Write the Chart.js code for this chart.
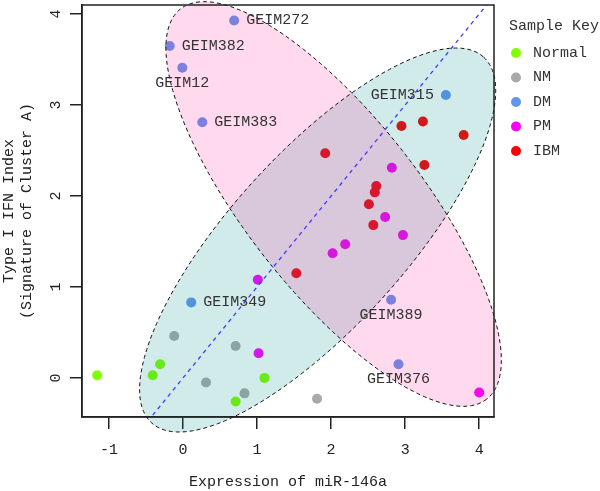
<!DOCTYPE html>
<html>
<head>
<meta charset="utf-8">
<script src="https://cdn.jsdelivr.net/npm/chart.js@4"></script>
<style>
  html, body { margin: 0; padding: 0; background: #fff; }
  canvas { display: block; }
</style>
</head>
<body>
<canvas id="graficaMiR" width="600" height="491"></canvas>
<script>
// Grupos de muestras y sus colores
const categorias = ['Normal', 'NM', 'DM', 'PM', 'IBM'];
const colores = ['#7FFF00', '#A9A9A9', '#6495ED', '#FF00FF', '#FF0000'];

// Valores: x = expresión de miR-146a, y = índice IFN tipo I
const normalX = [-1.16, -0.41, -0.31, 0.71, 1.10];
const normalY = [0.03, 0.03, 0.15, -0.26, 0.00];
const nmX = [-0.12, 0.71, 0.31, 0.83, 1.81];
const nmY = [0.46, 0.35, -0.05, -0.17, -0.23];
const dmX = [0.69, -0.18, -0.01, 0.26, 3.55, 0.11, 2.81, 2.91];
const dmY = [3.93, 3.65, 3.41, 2.81, 3.11, 0.83, 0.86, 0.15];
const dmNombres = ['GEIM272', 'GEIM382', 'GEIM12', 'GEIM383', 'GEIM315', 'GEIM349', 'GEIM389', 'GEIM376'];
const dmLado = ['right', 'right', 'below', 'right', 'left', 'right', 'below', 'below'];
const pmX = [2.82, 2.73, 2.97, 2.19, 2.02, 1.01, 1.02, 4.00];
const pmY = [2.31, 1.77, 1.57, 1.47, 1.37, 1.08, 0.27, -0.16];
const ibmX = [2.95, 3.24, 3.79, 1.92, 3.26, 2.61, 2.59, 2.51, 2.57, 1.53];
const ibmY = [2.77, 2.82, 2.67, 2.47, 2.34, 2.11, 2.04, 1.91, 1.68, 1.15];

// Ejes
const rangoX = [-1.365, 4.2];
const rangoY = [-0.43, 4.10];
const tituloX = 'Expression of miR-146a';
const tituloY = ['Type I IFN Index', '(Signature of Cluster A)'];
const tituloLeyenda = 'Sample Key';

// Recta de referencia y = a + b x
const rectaA = 0, rectaB = 1;

// Elipses (centro y semiejes en unidades de datos)
const elipseCian = { centro: [1.818, 1.516], eje1: [2.242, 2.011], eje2: [0.871, -0.642] };
const elipseRosa = { centro: [2.034, 1.912], eje1: [2.068, -2.145], eje2: [-0.925, -0.590] };

const fuente = "'Courier New', 'Liberation Mono', monospace";
Chart.defaults.font.family = fuente;
Chart.defaults.font.size = 15;
Chart.defaults.color = '#222';

const juntar = (xs, ys) => xs.map((v, i) => ({ x: v, y: ys[i] }));
const series = [[normalX, normalY], [nmX, nmY], [dmX, dmY], [pmX, pmY], [ibmX, ibmY]];

function trazarElipse(ctx, e, x, y) {
  const cx = x.getPixelForValue(e.centro[0]), cy = y.getPixelForValue(e.centro[1]);
  const ux = x.getPixelForValue(e.centro[0] + e.eje1[0]) - cx;
  const uy = y.getPixelForValue(e.centro[1] + e.eje1[1]) - cy;
  const vx = x.getPixelForValue(e.centro[0] + e.eje2[0]) - cx;
  const vy = y.getPixelForValue(e.centro[1] + e.eje2[1]) - cy;
  ctx.beginPath();
  for (let i = 0; i <= 240; i++) {
    const t = i / 240 * Math.PI * 2;
    ctx.lineTo(cx + ux * Math.cos(t) + vx * Math.sin(t), cy + uy * Math.cos(t) + vy * Math.sin(t));
  }
  ctx.closePath();
}

const capas = {
  id: 'capas',
  afterDatasetsDraw(chart) {
    const { ctx, chartArea: a, scales: { x, y } } = chart;
    ctx.save();
    // rellenos translúcidos encima de los puntos
    trazarElipse(ctx, elipseCian, x, y);
    ctx.fillStyle = 'rgba(0,139,139,0.18)';
    ctx.fill();
    trazarElipse(ctx, elipseRosa, x, y);
    ctx.fillStyle = 'rgba(255,20,147,0.16)';
    ctx.fill();
    ctx.setLineDash([4, 3]);
    ctx.lineWidth = 1;
    ctx.strokeStyle = '#111';
    trazarElipse(ctx, elipseCian, x, y);
    ctx.stroke();
    trazarElipse(ctx, elipseRosa, x, y);
    ctx.stroke();

    // recta y = x
    ctx.save();
    ctx.beginPath();
    ctx.rect(a.left, a.top, a.width, a.height);
    ctx.clip();
    ctx.beginPath();
    ctx.moveTo(x.getPixelForValue(x.min), y.getPixelForValue(rectaA + rectaB * x.min));
    ctx.lineTo(x.getPixelForValue(x.max), y.getPixelForValue(rectaA + rectaB * x.max));
    ctx.setLineDash([4, 4]);
    ctx.lineWidth = 1.3;
    ctx.strokeStyle = '#3c3cff';
    ctx.stroke();
    ctx.restore();

    // marco
    ctx.setLineDash([]);
    ctx.lineWidth = 1.5;
    ctx.strokeStyle = '#222';
    ctx.strokeRect(a.left, a.top, a.width, a.height);

    // nombres de las muestras DM
    ctx.font = '15px ' + fuente;
    ctx.fillStyle = '#333';
    const pts = chart.getDatasetMeta(2).data;
    dmNombres.forEach((n, i) => {
      const p = pts[i];
      if (dmLado[i] === 'right') {
        ctx.textAlign = 'left'; ctx.textBaseline = 'middle';
        ctx.fillText(n, p.x + 12, p.y);
      } else if (dmLado[i] === 'left') {
        ctx.textAlign = 'right'; ctx.textBaseline = 'middle';
        ctx.fillText(n, p.x - 12, p.y);
      } else {
        ctx.textAlign = 'center'; ctx.textBaseline = 'middle';
        ctx.fillText(n, p.x, p.y + 15);
      }
    });
    ctx.restore();
  },
  afterDraw(chart) {
    const { ctx, chartArea: a } = chart;
    ctx.save();
    ctx.font = '15px ' + fuente;
    ctx.textBaseline = 'middle';
    ctx.textAlign = 'left';
    ctx.fillStyle = '#333';
    ctx.fillText(tituloLeyenda, a.right + 15, 26);
    categorias.forEach((c, i) => {
      const yy = 53 + i * 24.5;
      ctx.beginPath();
      ctx.arc(a.right + 22, yy, 5, 0, Math.PI * 2);
      ctx.fillStyle = colores[i];
      ctx.fill();
      ctx.fillStyle = '#333';
      ctx.fillText(c, a.right + 39, yy);
    });
    ctx.restore();
  }
};

const ctxMiR = document.getElementById('graficaMiR').getContext('2d');
const graficaMiR = new Chart(ctxMiR, {
  type: 'scatter',
  data: {
    datasets: series.map((s, i) => ({
      label: categorias[i],
      data: juntar(s[0], s[1]),
      backgroundColor: colores[i],
      borderWidth: 0,
      pointRadius: 5,
      pointHoverRadius: 5
    }))
  },
  options: {
    responsive: false,
    animation: false,
    layout: { padding: { top: 5, right: 106, bottom: 0, left: 0 } },
    plugins: {
      legend: { display: false },
      tooltip: { enabled: false }
    },
    scales: {
      x: {
        min: rangoX[0], max: rangoX[1],
        grid: { drawOnChartArea: false, drawTicks: true, tickLength: 12, color: '#222', lineWidth: 1.5 },
        border: { display: true, color: '#222', width: 1.5 },
        ticks: { stepSize: 1, includeBounds: false, padding: 12, color: '#222' },
        title: { display: true, text: tituloX, color: '#222', padding: { top: 0, bottom: 0 }, font: { size: 15, lineHeight: 1.2 } },
        afterFit(s) { s.height = 74; s.paddingLeft = 0; s.paddingRight = 0; }
      },
      y: {
        min: rangoY[0], max: rangoY[1],
        grid: { drawOnChartArea: false, drawTicks: true, tickLength: 12, color: '#222', lineWidth: 1.5 },
        border: { display: true, color: '#222', width: 1.5 },
        ticks: { stepSize: 1, includeBounds: false, padding: 9, minRotation: 90, maxRotation: 90, crossAlign: 'center', color: '#222' },
        title: { display: true, text: tituloY, color: '#222', padding: { top: 0, bottom: 0 }, font: { size: 15, lineHeight: '18px' } },
        afterFit(s) { s.width = 82; s.paddingTop = 0; s.paddingBottom = 0; }
      }
    }
  },
  plugins: [capas]
});
</script>
</body>
</html>
